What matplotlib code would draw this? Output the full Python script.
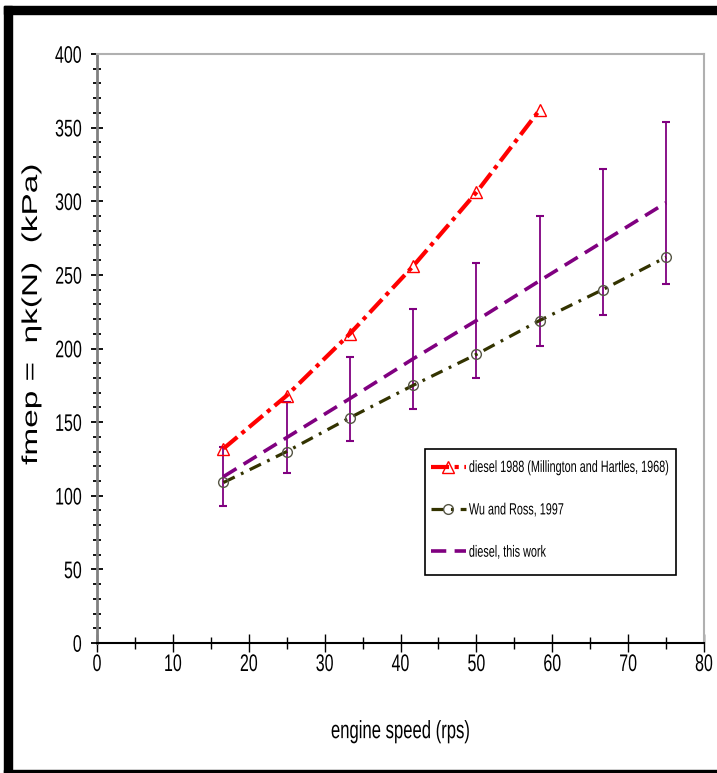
import numpy as np
import matplotlib
matplotlib.use("Agg")
import matplotlib.pyplot as plt
from matplotlib.patches import Rectangle
from matplotlib.patheffects import AbstractPathEffect
from matplotlib.transforms import Affine2D

plt.rcParams['font.family'] = ['Liberation Sans', 'DejaVu Sans']
plt.rcParams['lines.scale_dashes'] = False

# data
speed_1988 = [16.67, 25, 33.33, 41.67, 50, 58.33]
fmep_1988 = [132, 168, 210, 256, 306, 362]

speed = [16.67, 25, 33.33, 41.67, 50, 58.33, 66.67, 75]
fmep_wu = [109, 130, 153, 175, 196, 219, 240, 262]
fmep_this = [113, 139.5, 166, 193, 219, 246, 272.5, 299]
err_this = [20, 24, 28.5, 34, 39, 44, 49.5, 55]


class Stretch(AbstractPathEffect):
    """Stretch text glyphs (the original scan is squeezed / tall)."""

    def __init__(self, sx=1.0, sy=1.0, fx=0.5, fy=0.5):
        super().__init__()
        self.sx, self.sy, self.fx, self.fy = sx, sy, fx, fy

    def draw_path(self, renderer, gc, tpath, affine, rgbFace=None):
        v = tpath.vertices
        cx = cy = 0.0
        if len(v):
            x0, y0 = v.min(axis=0)
            x1, y1 = v.max(axis=0)
            cx = x0 + self.fx * (x1 - x0)
            cy = y0 + self.fy * (y1 - y0)
        pre = Affine2D().translate(-cx, -cy).scale(self.sx, self.sy).translate(cx, cy)
        renderer.draw_path(gc, tpath, pre + affine, rgbFace)


W, H = 717, 773
fig = plt.figure(figsize=(W / 100, H / 100), dpi=100)
fig.patch.set_facecolor('white')

# black frame around the picture (top, left, bottom)
fig.patches.append(Rectangle((4 / W, 1 - 14 / H), 1, 8 / H, transform=fig.transFigure,
                             color='black', zorder=0))
fig.patches.append(Rectangle((4 / W, 0), 8 / W, 1 - 6 / H, transform=fig.transFigure,
                             color='black', zorder=0))
fig.patches.append(Rectangle((4 / W, 0), 1, 3 / H, transform=fig.transFigure,
                             color='black', zorder=0))

ax = fig.add_axes([97 / W, 1 - 643 / H, (704 - 97) / W, (643 - 54) / H])

ax.errorbar(speed, fmep_this, yerr=err_this, fmt='none', ecolor='#800080',
            elinewidth=1.3, capsize=3, capthick=1.5, zorder=2)
ax.plot(speed_1988, fmep_1988, color='#ff0000', lw=3, dashes=(13, 4, 3, 4),
        marker='^', ms=8, mfc='none', mec='#ff0000', mew=1,
        label='diesel 1988 (Millington and Hartles, 1968)', zorder=4)
ax.plot(speed, fmep_wu, color='#333300', lw=2.3, dashes=(9, 5, 2, 5),
        marker='o', ms=7, mfc='none', mec='#555544', mew=1,
        label='Wu and Ross, 1997', zorder=3)
ax.plot(speed, fmep_this, color='#800080', lw=2.6, dashes=(11, 6),
        label='diesel, this work', zorder=3)

ax.set_xlim(0, 80)
ax.set_ylim(0, 400)
ax.set_xticks(np.arange(0, 81, 10))
ax.set_xticks(np.arange(0, 81, 5), minor=True)
ax.set_yticks(np.arange(0, 401, 50))
ax.set_yticks(np.arange(0, 401, 10), minor=True)

ax.spines['left'].set_color('#808080')
ax.spines['left'].set_linewidth(2)
ax.spines['bottom'].set_color('black')
ax.spines['bottom'].set_linewidth(1.5)
ax.spines['bottom'].set_zorder(5)
ax.spines['top'].set_color('#b0b0b0')
ax.spines['right'].set_color('#b0b0b0')
ax.spines['top'].set_linewidth(1.5)
ax.spines['right'].set_linewidth(1.5)

ax.tick_params(axis='x', which='major', direction='inout', length=13, width=1, pad=1,
               labelsize=11.5)
ax.tick_params(axis='x', which='minor', direction='inout', length=8.5, width=1)
ax.tick_params(axis='y', which='major', direction='inout', length=8, width=1.3, pad=7,
               labelsize=11.5)
ax.tick_params(axis='y', which='minor', direction='inout', length=6, width=1.3)

for t in ax.xaxis.get_major_ticks():
    t.label1.set_path_effects([Stretch(sy=1.5, fy=1.0)])
for t in ax.yaxis.get_major_ticks():
    t.label1.set_path_effects([Stretch(sy=1.5, fy=0.5)])

xl = ax.set_xlabel('engine speed (rps)', fontsize=12)
xl.set_path_effects([Stretch(sy=1.5, fy=0.5)])
ax.xaxis.set_label_coords(0.5, -0.1375)

yl = ax.set_ylabel('fmep =  ηk(N)  (kPa)', fontsize=15.5)
yl.set_path_effects([Stretch(sx=1.55, fx=0.5)])
ax.yaxis.set_label_coords(-0.0906, 0.557)

# legend box drawn separately so its padding can match the original
ax.add_patch(Rectangle((0.5404, 0.1154), 0.9539 - 0.5404, 0.3294 - 0.1154,
                       transform=ax.transAxes, facecolor='white', edgecolor='black',
                       lw=1.2, zorder=6))
leg = ax.legend(loc='upper left', bbox_to_anchor=(0.5502, 0.3064), fontsize=7.8,
                frameon=False, labelspacing=2.98, handlelength=3.2,
                handletextpad=0.3, borderpad=0, borderaxespad=0)
leg.set_zorder(7)
for txt in leg.get_texts():
    txt.set_path_effects([Stretch(sy=1.5, fy=0.5)])

fig.savefig('out.png', dpi=100, facecolor='white')
